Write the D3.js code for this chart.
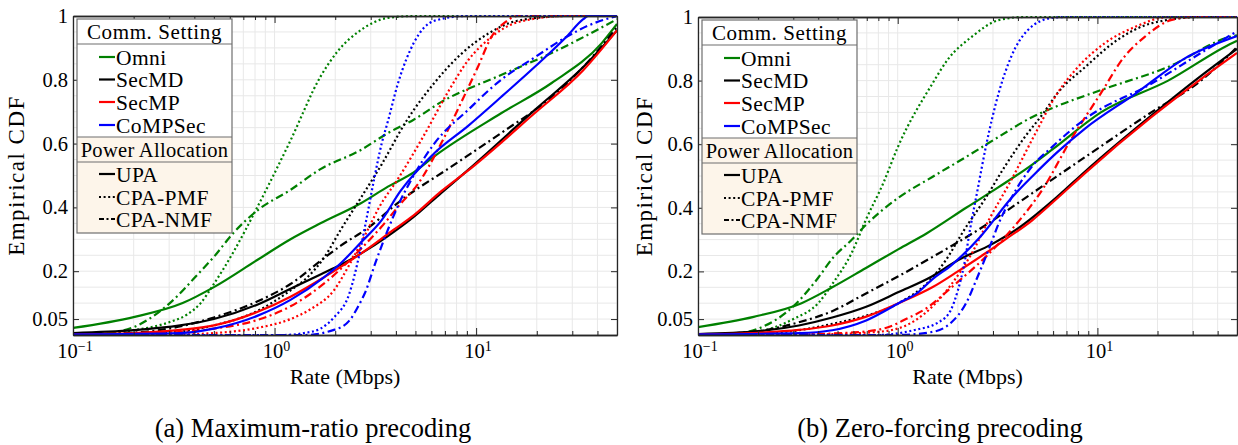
<!DOCTYPE html>
<html>
<head>
<meta charset="utf-8">
<script src="https://cdn.jsdelivr.net/npm/d3@7"></script>
<style>
  body { margin: 0; background: #fff; }
  svg, svg text { font-family: "Liberation Serif", "Tinos", "Times New Roman", Times, "DejaVu Serif", serif; }
</style>
</head>
<body>
<svg id="chart" width="1238" height="445"></svg>
<script>
// legend / category names
const settings = ['Omni', 'SecMD', 'SecMP', 'CoMPSec'];
const allocations = ['UPA', 'CPA-PMF', 'CPA-NMF'];
const captions = ['(a) Maximum-ratio precoding', '(b) Zero-forcing precoding'];

// axis ticks
const xDomain = [0.1, 50];
const xMajorTicks = [0.1, 1, 10];
const xTickExps = ['\u22121', '0', '1'];
const yTicks = [0.05, 0.2, 0.4, 0.6, 0.8, 1];

// (a) maximum-ratio precoding: [rate in Mbps, empirical CDF]
const mrOmniUPA = [[0.1,0.022],[0.2,0.056],[0.35,0.10],[0.5,0.15],[0.82,0.235],[1.2,0.30],[1.69,0.35],[2.68,0.413],[3.65,0.465],[4.9,0.51],[6.2,0.56],[13.3,0.695],[23.7,0.79],[42,0.915],[50,0.975]];
const mrOmniPMF = [[0.1,0],[0.13,0.002],[0.2,0.015],[0.3,0.04],[0.37,0.065],[0.43,0.10],[0.5,0.16],[0.625,0.26],[0.82,0.40],[1.2,0.61],[1.69,0.81],[2.06,0.89],[2.68,0.956],[3.65,0.994],[5,1],[50,1]];
const mrOmniNMF = [[0.1,0],[0.13,0.002],[0.2,0.025],[0.29,0.09],[0.43,0.20],[0.5,0.245],[0.625,0.32],[0.82,0.39],[1.2,0.455],[1.69,0.52],[2.68,0.58],[3.65,0.633],[4.9,0.675],[6.7,0.73],[13.3,0.815],[23.7,0.884],[50,0.99]];
const mrSecMDUPA = [[0.1,0.006],[0.2,0.015],[0.34,0.03],[0.5,0.05],[0.82,0.095],[1.2,0.145],[1.69,0.19],[2.13,0.22],[2.68,0.255],[3.65,0.31],[4.9,0.37],[6.7,0.445],[9.1,0.517],[19.5,0.705],[34,0.84],[50,0.955]];
const mrSecMDPMF = [[0.1,0],[0.2,0.004],[0.35,0.012],[0.5,0.03],[0.82,0.075],[1.2,0.14],[1.45,0.18],[1.75,0.24],[2.13,0.33],[2.68,0.43],[3.4,0.535],[4.5,0.67],[6.2,0.79],[8.4,0.88],[11.5,0.945],[16,0.985],[28,1],[50,1]];
const mrSecMDNMF = [[0.1,0],[0.15,0.003],[0.3,0.02],[0.5,0.055],[0.82,0.105],[1.2,0.16],[1.75,0.24],[2.13,0.28],[2.9,0.335],[4.2,0.42],[7.5,0.527],[13.3,0.633],[23.7,0.746],[34,0.84],[50,0.965]];
const mrSecMPUPA = [[0.1,0.002],[0.2,0.006],[0.34,0.016],[0.5,0.03],[0.82,0.072],[1.2,0.12],[1.75,0.18],[2.68,0.255],[3.9,0.33],[4.9,0.375],[6.7,0.45],[9.1,0.515],[19.5,0.695],[34,0.83],[50,0.955]];
const mrSecMPPMF = [[0.1,0],[0.3,0.001],[0.5,0.006],[0.82,0.022],[1.2,0.05],[1.5,0.08],[1.97,0.14],[2.35,0.22],[2.9,0.33],[3.3,0.40],[4.1,0.49],[5.5,0.625],[7.3,0.765],[9.1,0.86],[11.9,0.934],[16,0.98],[28,1],[50,1]];
const mrSecMPNMF = [[0.1,0],[0.2,0.003],[0.5,0.02],[0.82,0.047],[1.2,0.09],[1.75,0.16],[2.68,0.27],[3.4,0.34],[4.2,0.41],[5.1,0.47],[6.7,0.6],[8.4,0.727],[10.2,0.84],[11.9,0.934],[13.9,0.98],[16,1],[50,1]];
const mrCoMPUPA = [[0.1,0.002],[0.34,0.006],[0.5,0.02],[0.82,0.06],[1.2,0.11],[1.75,0.18],[2.13,0.225],[2.68,0.29],[3.4,0.36],[4.2,0.45],[6.2,0.57],[9.1,0.655],[13.3,0.746],[19.5,0.84],[28,0.934],[34,0.99],[36,1],[50,1]];
const mrCoMPPMF = [[0.1,0],[1.1,0],[1.4,0.006],[1.69,0.02],[1.97,0.055],[2.35,0.13],[2.65,0.26],[2.85,0.36],[3.1,0.48],[3.4,0.6],[3.65,0.67],[4.1,0.79],[4.9,0.915],[6.2,0.985],[9,1],[50,1]];
const mrCoMPNMF = [[0.1,0],[1.4,0],[1.97,0.016],[2.35,0.045],[2.6,0.09],[2.8,0.13],[3.2,0.235],[3.65,0.33],[4.2,0.42],[4.8,0.49],[6.2,0.60],[9.1,0.705],[13.3,0.80],[19.5,0.87],[28,0.934],[36,0.97],[50,1]];

// (b) zero-forcing precoding
const zfOmniUPA = [[0.1,0.025],[0.19,0.057],[0.33,0.10],[0.47,0.15],[0.69,0.21],[1.01,0.27],[1.4,0.32],[2.2,0.40],[3.2,0.465],[4.7,0.535],[6.0,0.585],[10.4,0.70],[22.6,0.80],[48,0.92],[50,0.925]];
const zfOmniPMF = [[0.1,0],[0.15,0.002],[0.2,0.01],[0.3,0.05],[0.4,0.10],[0.47,0.16],[0.59,0.26],[0.69,0.36],[0.85,0.48],[1.0,0.59],[1.49,0.79],[1.8,0.87],[2.34,0.937],[3.2,0.99],[4.3,1],[50,1]];
const zfOmniNMF = [[0.1,0],[0.15,0.003],[0.2,0.02],[0.3,0.09],[0.4,0.18],[0.47,0.24],[0.59,0.30],[0.69,0.345],[1.0,0.43],[1.49,0.497],[2.2,0.56],[3.2,0.623],[4.7,0.685],[6.3,0.72],[10.4,0.77],[22.6,0.843],[48,0.94],[50,0.942]];
const zfSecMDUPA = [[0.1,0.003],[0.2,0.012],[0.32,0.03],[0.47,0.055],[0.69,0.088],[1.01,0.135],[1.49,0.185],[2.0,0.235],[2.95,0.285],[4.0,0.335],[6.3,0.435],[8.7,0.515],[18.6,0.69],[33,0.815],[50,0.90]];
const zfSecMDPMF = [[0.1,0],[0.2,0.005],[0.32,0.015],[0.47,0.035],[0.69,0.06],[1.01,0.10],[1.49,0.18],[1.74,0.235],[2.15,0.33],[2.75,0.43],[3.4,0.525],[4.3,0.62],[5.4,0.70],[6.3,0.76],[8.7,0.843],[12.6,0.928],[18.6,0.98],[33,1],[50,1]];
const zfSecMDNMF = [[0.1,0],[0.15,0.005],[0.2,0.012],[0.32,0.04],[0.47,0.075],[0.69,0.13],[1.01,0.185],[1.49,0.245],[1.86,0.28],[2.75,0.345],[4.0,0.415],[6.3,0.50],[8.7,0.56],[18.6,0.70],[33,0.80],[50,0.905]];
const zfSecMPUPA = [[0.1,0.002],[0.2,0.007],[0.32,0.016],[0.47,0.03],[0.69,0.057],[1.01,0.10],[1.49,0.15],[2.0,0.2],[2.75,0.257],[3.45,0.30],[4.7,0.36],[6.3,0.43],[8.7,0.51],[18.6,0.685],[33,0.805],[50,0.887]];
const zfSecMPPMF = [[0.1,0],[0.4,0.002],[0.8,0.01],[1.1,0.03],[1.35,0.065],[1.86,0.16],[2.35,0.257],[2.85,0.36],[3.7,0.487],[4.9,0.635],[6.3,0.76],[8.0,0.843],[10.9,0.918],[15.6,0.97],[22.6,1],[50,1]];
const zfSecMPNMF = [[0.1,0],[0.3,0.002],[0.6,0.008],[0.87,0.022],[1.1,0.05],[1.4,0.085],[1.86,0.15],[2.75,0.245],[3.7,0.33],[5.4,0.465],[7.3,0.61],[10.4,0.76],[13.6,0.874],[17.2,0.937],[23.3,0.99],[30,1],[50,1]];
const zfCoMPUPA = [[0.1,0.002],[0.32,0.006],[0.47,0.015],[0.69,0.045],[1.01,0.10],[1.27,0.135],[1.49,0.175],[1.86,0.22],[2.6,0.31],[3.7,0.43],[5.1,0.52],[6.3,0.575],[8.7,0.65],[15.6,0.76],[27.4,0.87],[50,0.94]];
const zfCoMPPMF = [[0.1,0],[0.8,0],[1.2,0.015],[1.6,0.04],[1.85,0.08],[2.0,0.14],[2.15,0.22],[2.3,0.33],[2.5,0.45],[2.78,0.60],[3.2,0.76],[3.7,0.875],[4.5,0.96],[5.9,0.997],[7,1],[50,1]];
const zfCoMPNMF = [[0.1,0],[1.0,0],[1.5,0.01],[1.86,0.04],[2.2,0.10],[2.5,0.18],[2.9,0.28],[3.2,0.35],[3.7,0.43],[4.7,0.53],[5.9,0.59],[8.7,0.68],[18.6,0.79],[33,0.887],[50,0.955]];

// styles
const settingColors = ['#008000', '#000000', '#ff0000', '#0000ff'];
const allocDash = [null, '2,2.6', '8,3.5,2,3.5'];
const serif = '"Liberation Serif", "Tinos", "Times New Roman", Times, "DejaVu Serif", serif';

const panels = [
  {
    caption: captions[0], left: 73, right: 617, top: 16, bottom: 335, ylabX: 24, capX: 313,
    series: [[mrOmniUPA, mrOmniPMF, mrOmniNMF], [mrSecMDUPA, mrSecMDPMF, mrSecMDNMF],
             [mrSecMPUPA, mrSecMPPMF, mrSecMPNMF], [mrCoMPUPA, mrCoMPPMF, mrCoMPNMF]]
  },
  {
    caption: captions[1], left: 698, right: 1237, top: 17, bottom: 335, ylabX: 652, capX: 940,
    series: [[zfOmniUPA, zfOmniPMF, zfOmniNMF], [zfSecMDUPA, zfSecMDPMF, zfSecMDNMF],
             [zfSecMPUPA, zfSecMPPMF, zfSecMPNMF], [zfCoMPUPA, zfCoMPPMF, zfCoMPNMF]]
  }
];

const svg = d3.select('#chart').attr('font-family', serif);

function drawPanel(p, idx) {
  const x = d3.scaleLog().domain(xDomain).range([p.left, p.right]);
  const y = d3.scaleLinear().domain([0, 1]).range([p.bottom, p.top]);
  const g = svg.append('g');

  const clipId = 'clip' + idx;
  svg.append('defs').append('clipPath').attr('id', clipId)
    .append('rect')
    .attr('x', p.left).attr('y', p.top - 3)
    .attr('width', p.right - p.left).attr('height', p.bottom - p.top + 6);

  // grid
  g.append('g').selectAll('line')
    .data(x.ticks())
    .join('line')
    .attr('x1', d => x(d)).attr('x2', d => x(d))
    .attr('y1', p.top).attr('y2', p.bottom)
    .attr('stroke', '#e8e8e8').attr('stroke-width', 1);

  g.append('g').selectAll('line')
    .data(d3.range(1, 20).map(i => i * 0.05))
    .join('line')
    .attr('x1', p.left).attr('x2', p.right)
    .attr('y1', d => y(d)).attr('y2', d => y(d))
    .attr('stroke', '#e8e8e8').attr('stroke-width', 1);

  // curves
  const line = d3.line()
    .x(d => x(d[0]))
    .y(d => y(d[1]))
    .curve(d3.curveMonotoneX);

  const curves = g.append('g').attr('clip-path', `url(#${clipId})`);
  p.series.forEach((group, si) => {
    group.forEach((pts, ai) => {
      curves.append('path')
        .attr('d', line(pts))
        .attr('fill', 'none')
        .attr('stroke', settingColors[si])
        .attr('stroke-width', 2.2)
        .attr('stroke-dasharray', allocDash[ai]);
    });
  });

  // axes (inward ticks)
  const minor = x.ticks().filter(d => !xMajorTicks.includes(d));
  const axisStyle = sel => {
    sel.attr('font-family', serif);
    sel.select('.domain').attr('stroke', '#262626').attr('stroke-width', 1.3);
    sel.selectAll('.tick line').attr('stroke', '#262626').attr('stroke-width', 1);
  };

  g.append('g').attr('transform', `translate(0,${p.bottom})`)
    .call(d3.axisBottom(x).tickValues(minor).tickSizeInner(-4).tickSizeOuter(0).tickFormat(''))
    .call(axisStyle);
  g.append('g').attr('transform', `translate(0,${p.bottom})`)
    .call(d3.axisBottom(x).tickValues(xMajorTicks).tickSizeInner(-7).tickSizeOuter(0).tickFormat(''))
    .call(axisStyle);
  g.append('g').attr('transform', `translate(0,${p.top})`)
    .call(d3.axisTop(x).tickValues(minor).tickSizeInner(-4).tickSizeOuter(0).tickFormat(''))
    .call(axisStyle);
  g.append('g').attr('transform', `translate(0,${p.top})`)
    .call(d3.axisTop(x).tickValues(xMajorTicks).tickSizeInner(-7).tickSizeOuter(0).tickFormat(''))
    .call(axisStyle);

  const yAxis = g.append('g').attr('transform', `translate(${p.left},0)`)
    .call(d3.axisLeft(y).tickValues(yTicks).tickSizeInner(-6).tickSizeOuter(0).tickPadding(5)
      .tickFormat(d => String(d)))
    .call(axisStyle);
  yAxis.selectAll('text')
    .attr('font-family', serif)
    .attr('font-size', 20.5)
    .attr('fill', '#000');

  g.append('g').attr('transform', `translate(${p.right},0)`)
    .call(d3.axisRight(y).tickValues(yTicks).tickSizeInner(-6).tickSizeOuter(0).tickFormat(''))
    .call(axisStyle);

  // x tick labels 10^k
  const xl = g.append('g').selectAll('text')
    .data(xMajorTicks)
    .join('text')
    .attr('x', d => x(d) + 2)
    .attr('y', p.bottom + 23)
    .attr('text-anchor', 'middle')
    .attr('font-size', 20.5);
  xl.append('tspan').text('10');
  xl.append('tspan').attr('dy', -7).attr('font-size', 14).text((d, i) => xTickExps[i]);

  // axis titles
  g.append('text')
    .attr('x', (p.left + p.right) / 2).attr('y', p.bottom + 49)
    .attr('text-anchor', 'middle').attr('font-size', 22)
    .text('Rate (Mbps)');

  g.append('text')
    .attr('transform', `translate(${p.ylabX},${(p.top + p.bottom) / 2}) rotate(-90)`)
    .attr('text-anchor', 'middle').attr('font-size', 23).attr('letter-spacing', 1.5)
    .text('Empirical CDF');

  // legend
  const lx = p.left + 4, ly = p.top + 3, lw = 155;
  const lg = g.append('g');
  lg.append('rect').attr('x', lx).attr('y', ly).attr('width', lw).attr('height', 118)
    .attr('fill', '#fff');
  lg.append('rect').attr('x', lx).attr('y', ly + 118).attr('width', lw).attr('height', 96)
    .attr('fill', '#fdf5ea');
  lg.append('rect').attr('x', lx).attr('y', ly).attr('width', lw).attr('height', 214)
    .attr('fill', 'none').attr('stroke', '#6e6e6e').attr('stroke-width', 1.2);
  [25, 118, 143].forEach(dy => {
    lg.append('line').attr('x1', lx).attr('x2', lx + lw)
      .attr('y1', ly + dy).attr('y2', ly + dy)
      .attr('stroke', '#6e6e6e').attr('stroke-width', 1.2);
  });
  lg.append('text').attr('x', lx + lw / 2).attr('y', ly + 12.5).attr('dy', '0.35em')
    .attr('text-anchor', 'middle').attr('font-size', 21).attr('letter-spacing', 0.6)
    .text('Comm. Setting');
  lg.append('text').attr('x', lx + lw / 2).attr('y', ly + 130.5).attr('dy', '0.35em')
    .attr('text-anchor', 'middle').attr('font-size', 20.5).attr('letter-spacing', 0.3)
    .text('Power Allocation');

  const entryY1 = [38, 60.5, 83, 106];
  settings.forEach((name, i) => {
    lg.append('line').attr('x1', lx + 22).attr('x2', lx + 38)
      .attr('y1', ly + entryY1[i]).attr('y2', ly + entryY1[i])
      .attr('stroke', settingColors[i]).attr('stroke-width', 2.2);
    lg.append('text').attr('x', lx + 39).attr('y', ly + entryY1[i]).attr('dy', '0.35em')
      .attr('font-size', 21.5).attr('letter-spacing', 0.4).text(name);
  });
  const entryY2 = [155, 178, 200];
  allocations.forEach((name, i) => {
    lg.append('line').attr('x1', lx + 22).attr('x2', lx + 38)
      .attr('y1', ly + entryY2[i]).attr('y2', ly + entryY2[i])
      .attr('stroke', '#000').attr('stroke-width', 2.2)
      .attr('stroke-dasharray', i === 2 ? '5,2.5,2,2.5' : allocDash[i]);
    lg.append('text').attr('x', lx + 39).attr('y', ly + entryY2[i]).attr('dy', '0.35em')
      .attr('font-size', 21.5).attr('letter-spacing', 0.4).text(name);
  });

  // caption
  svg.append('text')
    .attr('x', p.capX).attr('y', 437)
    .attr('text-anchor', 'middle').attr('font-size', 26.5)
    .text(p.caption);
}

panels.forEach(drawPanel);
</script>
</body>
</html>
